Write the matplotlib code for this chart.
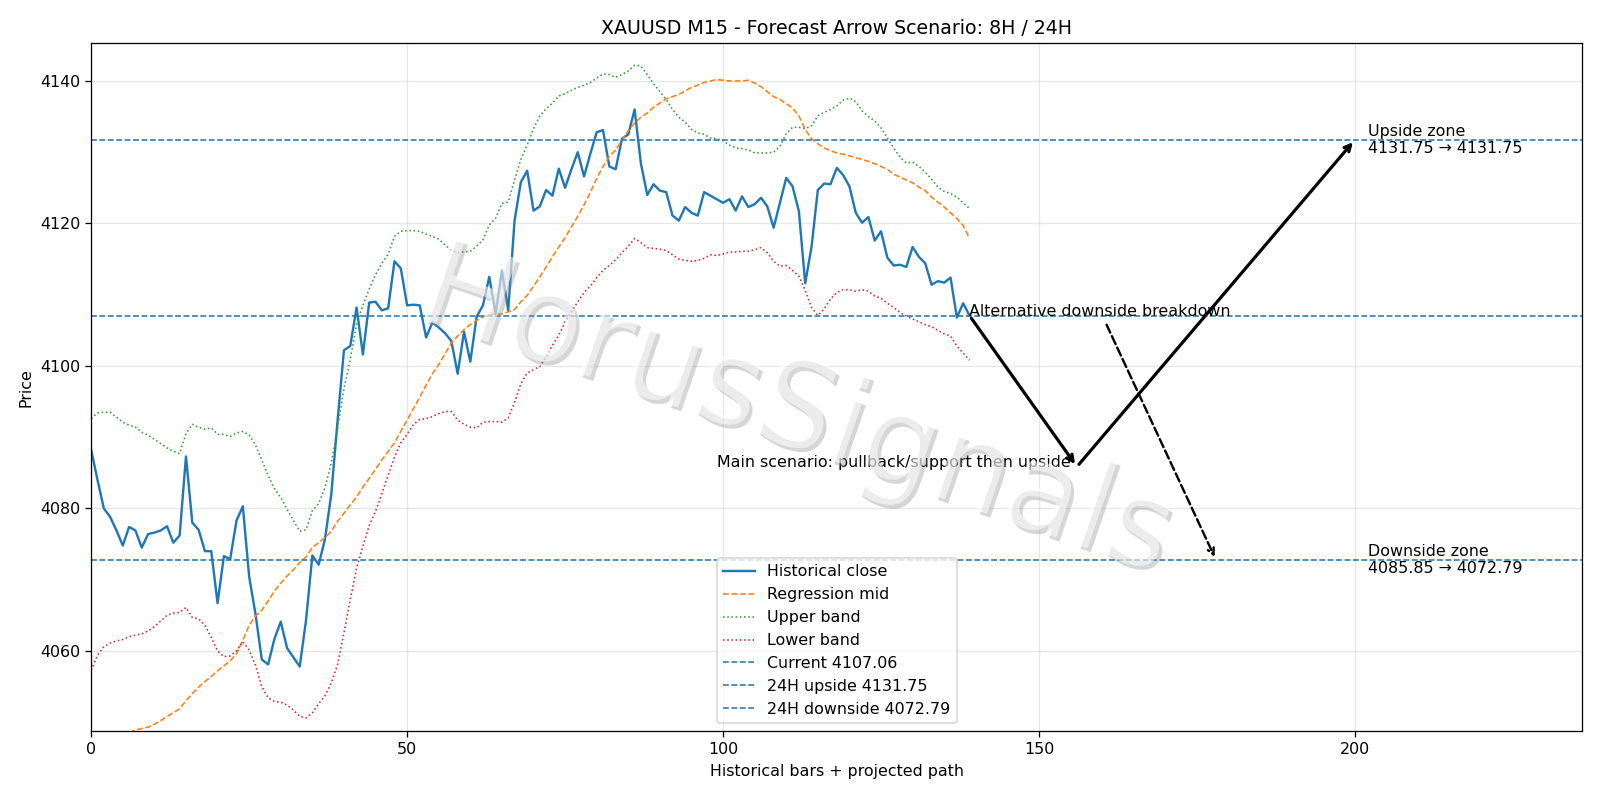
import numpy as np
import matplotlib
matplotlib.use("Agg")
import matplotlib.pyplot as plt
import matplotlib.patheffects as pe

# close prices, bar 0..139
close = [4088.2, 4084.0, 4080.0, 4078.8, 4076.9, 4074.8, 4077.4, 4076.9, 4074.5, 4076.4,
         4076.6, 4076.9, 4077.5, 4075.2, 4076.2, 4087.3, 4078.0, 4077.0, 4074.0, 4074.0,
         4066.7, 4073.3, 4072.9, 4078.3, 4080.3, 4070.4, 4065.2, 4058.8, 4058.1, 4061.7,
         4064.1, 4060.4, 4059.1, 4057.8, 4064.3, 4073.4, 4072.1, 4075.7, 4082.0, 4092.4,
         4102.2, 4102.8, 4108.2, 4101.6, 4108.9, 4109.0, 4107.8, 4108.1, 4114.7, 4113.7,
         4108.5, 4108.6, 4108.5, 4104.0, 4106.1, 4105.4, 4104.6, 4103.5, 4098.9, 4104.8,
         4100.6, 4106.9, 4108.5, 4112.5, 4107.3, 4113.4, 4107.8, 4120.4, 4125.8, 4127.4,
         4121.8, 4122.4, 4124.7, 4123.9, 4127.7, 4125.0, 4127.6, 4130.0, 4126.6, 4129.8,
         4132.8, 4133.1, 4128.0, 4127.6, 4131.9, 4132.5, 4136.0, 4128.4, 4124.0, 4125.5,
         4124.6, 4124.4, 4121.1, 4120.4, 4122.3, 4121.5, 4121.1, 4124.4, 4123.9, 4123.4,
         4122.9, 4123.4, 4121.8, 4123.8, 4122.3, 4122.7, 4123.6, 4122.4, 4119.4, 4122.9,
         4126.4, 4125.2, 4121.7, 4111.6, 4116.7, 4124.7, 4125.6, 4125.5, 4127.8, 4126.8,
         4125.2, 4121.5, 4120.1, 4120.9, 4117.6, 4118.9, 4115.2, 4114.1, 4114.2, 4113.9,
         4116.7, 4115.3, 4114.4, 4111.4, 4111.9, 4111.7, 4112.4, 4106.8, 4108.8, 4107.06]

mid = [4046.0, 4046.4, 4046.8, 4047.2, 4047.6, 4048.0, 4048.5, 4048.9, 4049.1, 4049.3,
       4049.7, 4050.2, 4050.8, 4051.3, 4051.9, 4053.0, 4054.0, 4054.9, 4055.7, 4056.4,
       4057.2, 4057.9, 4058.6, 4059.6, 4061.5, 4063.6, 4064.9, 4065.7, 4067.0, 4068.4,
       4069.5, 4070.5, 4071.4, 4072.4, 4073.2, 4074.5, 4075.2, 4075.9, 4076.8, 4078.2,
       4079.3, 4080.5, 4081.6, 4083.0, 4084.2, 4085.5, 4086.8, 4088.0, 4089.2, 4090.8,
       4092.4, 4094.0, 4095.6, 4097.3, 4098.9, 4100.2, 4101.7, 4103.2, 4104.2, 4105.1,
       4105.8, 4106.4, 4106.9, 4107.2, 4107.3, 4107.3, 4107.6, 4107.9, 4109.0, 4109.9,
       4111.2, 4112.5, 4113.9, 4115.3, 4116.7, 4118.0, 4119.5, 4121.0, 4122.6, 4124.4,
       4126.3, 4128.0, 4129.4, 4130.3, 4131.7, 4133.0, 4134.1, 4134.9, 4135.5, 4136.3,
       4136.9, 4137.5, 4137.8, 4138.1, 4138.6, 4139.1, 4139.4, 4139.8, 4140.0, 4140.2,
       4140.1, 4140.0, 4140.0, 4140.0, 4140.1, 4139.7, 4139.2, 4138.5, 4137.8, 4137.4,
       4136.8, 4136.2, 4135.1, 4133.2, 4131.9, 4131.2, 4130.6, 4130.2, 4129.9, 4129.7,
       4129.5, 4129.2, 4129.0, 4128.7, 4128.4, 4128.0, 4127.6, 4126.9, 4126.5, 4126.1,
       4125.7, 4125.1, 4124.6, 4123.7, 4123.0, 4122.3, 4121.5, 4120.7, 4119.7, 4117.9]

upper = [4092.6, 4093.4, 4093.5, 4093.5, 4092.8, 4092.1, 4091.7, 4091.4, 4090.7, 4090.3,
         4089.7, 4089.1, 4088.5, 4088.0, 4087.7, 4090.5, 4091.8, 4091.4, 4091.1, 4091.3,
         4090.4, 4090.4, 4090.1, 4090.6, 4090.8, 4090.3, 4088.9, 4086.8, 4084.6, 4082.8,
         4081.5, 4079.9, 4078.3, 4076.8, 4077.0, 4079.7, 4080.7, 4082.9, 4086.4, 4091.3,
         4096.8, 4100.9, 4105.9, 4108.5, 4110.8, 4112.8, 4114.4, 4115.7, 4118.2, 4118.9,
         4119.0, 4119.0, 4118.9, 4118.5, 4118.2, 4117.8, 4117.0, 4116.2, 4115.9, 4116.0,
         4116.1, 4116.8, 4117.7, 4119.8, 4120.7, 4122.8, 4123.0, 4126.1, 4129.0, 4131.0,
         4133.3, 4135.1, 4136.1, 4136.9, 4137.9, 4138.2, 4138.7, 4139.1, 4139.4, 4139.8,
         4140.4, 4141.0, 4140.9, 4140.5, 4140.9, 4141.4, 4142.2, 4142.1, 4140.9, 4139.6,
         4138.5, 4137.4, 4136.0, 4134.9, 4134.2, 4133.2, 4132.7, 4132.5, 4132.0, 4131.9,
         4131.6, 4131.0, 4130.6, 4130.5, 4130.3, 4129.9, 4129.9, 4129.9, 4130.0, 4130.8,
         4132.6, 4133.5, 4133.5, 4133.3, 4133.7, 4135.1, 4135.6, 4136.0, 4136.5, 4137.3,
         4137.6, 4137.1, 4135.8, 4135.0, 4134.4, 4133.4, 4132.0, 4130.6, 4129.3, 4128.5,
         4128.6, 4128.0, 4127.2, 4126.2, 4125.1, 4124.5, 4124.2, 4123.7, 4122.9, 4122.1]

lower = [4057.3, 4059.4, 4060.6, 4061.1, 4061.4, 4061.6, 4062.0, 4062.2, 4062.4, 4062.8,
         4063.4, 4064.2, 4065.0, 4065.3, 4065.4, 4066.1, 4064.7, 4064.5, 4063.6, 4061.9,
         4060.0, 4059.2, 4059.3, 4060.0, 4061.3, 4060.1, 4058.0, 4055.0, 4053.4, 4052.9,
         4052.8, 4052.4, 4051.7, 4050.8, 4050.6, 4051.3, 4052.6, 4053.7, 4055.5, 4058.1,
         4062.5, 4067.2, 4071.6, 4074.7, 4077.6, 4079.6, 4082.1, 4084.7, 4087.2, 4089.2,
         4090.4, 4091.8, 4092.5, 4092.6, 4092.9, 4093.3, 4093.6, 4093.6, 4092.4, 4091.8,
         4091.4, 4091.3, 4092.1, 4092.2, 4092.2, 4092.1, 4092.7, 4094.9, 4097.5, 4099.0,
         4099.5, 4099.9, 4101.3, 4102.9, 4104.3, 4106.2, 4107.6, 4109.0, 4110.3, 4111.2,
         4112.4, 4113.4, 4114.1, 4114.9, 4115.9, 4116.8, 4117.9, 4117.3, 4116.6, 4116.5,
         4116.4, 4116.2, 4115.6, 4115.0, 4114.8, 4114.7, 4114.8, 4115.1, 4115.6, 4115.5,
         4115.7, 4116.0, 4116.0, 4116.1, 4116.1, 4116.3, 4116.6, 4115.9, 4114.7, 4114.0,
         4114.1, 4113.4, 4112.6, 4110.6, 4108.2, 4107.1, 4108.0, 4109.4, 4110.3, 4110.7,
         4110.7, 4110.5, 4110.7, 4110.5, 4109.8, 4109.5, 4108.8, 4108.2, 4107.5, 4107.0,
         4106.6, 4106.2, 4105.8, 4105.5, 4105.0, 4104.5, 4104.2, 4102.8, 4101.8, 4100.8]

current = 4107.06
up_24h = 4131.75
down_24h = 4072.79
pullback = 4085.85

# projected path (bar index, price)
pull_x = 156
up_x = 200
alt_x = 178

x = np.arange(len(close))

fig, ax = plt.subplots(figsize=(14, 7), dpi=1600 / 14)
fig.subplots_adjust(left=0.057, right=0.989, top=0.946, bottom=0.086)

ax.plot(x, close, color="C0", lw=1.5, label="Historical close")
ax.plot(x, mid, color="C1", ls="--", lw=1, label="Regression mid")
ax.plot(x, upper, color="C2", ls=":", lw=1, label="Upper band")
ax.plot(x, lower, color="C3", ls=":", lw=1, label="Lower band")

ax.axhline(current, color="C0", ls="--", lw=1, label=f"Current {current:.2f}")
ax.axhline(up_24h, color="C0", ls="--", lw=1, label=f"24H upside {up_24h:.2f}")
ax.axhline(down_24h, color="C0", ls="--", lw=1, label=f"24H downside {down_24h:.2f}")

# main scenario: pullback then upside
last_x = x[-1]
ax.annotate("", xy=(pull_x, pullback), xytext=(last_x, current),
            arrowprops=dict(arrowstyle="->", lw=2, color="black"))
ax.annotate("", xy=(up_x, up_24h), xytext=(pull_x, pullback),
            arrowprops=dict(arrowstyle="->", lw=2, color="black"))
ax.text(pull_x - 1, pullback, "Main scenario: pullback/support then upside",
        ha="right", va="baseline")

# alternative scenario
ax.annotate("Alternative downside breakdown", xy=(alt_x, down_24h), xytext=(last_x, current),
            arrowprops=dict(arrowstyle="->", lw=1.5, ls="--", color="black"))

ax.text(202, up_24h, f"Upside zone\n{up_24h:.2f} \u2192 {up_24h:.2f}", va="center")
ax.text(202, down_24h, f"Downside zone\n{pullback:.2f} \u2192 {down_24h:.2f}", va="center")

# watermark
ax.text(0.473, 0.462, "HorusSignals", transform=ax.transAxes, fontsize=76,
        rotation=-19, ha="center", va="center", color=(1, 1, 1, 0.55), zorder=10,
        path_effects=[pe.withSimplePatchShadow(offset=(2, -2.5), shadow_rgbFace=(0.55, 0.55, 0.55), alpha=0.35)])

ax.set_xlim(0, 236)
ax.set_ylim(4048.73, 4145.3)
ax.grid(alpha=0.3)
ax.set_title("XAUUSD M15 - Forecast Arrow Scenario: 8H / 24H")
ax.set_xlabel("Historical bars + projected path")
ax.set_ylabel("Price")
ax.legend(loc="lower center")

fig.savefig("out.png")
